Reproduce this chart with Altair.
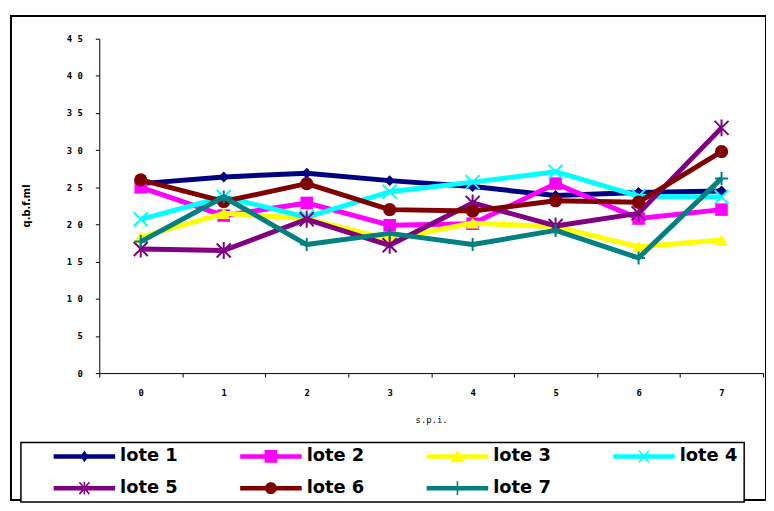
import math
import altair as alt
import pandas as pd

# ---- data ----
spi = ["0", "1", "2", "3", "4", "5", "6", "7"]
series = ["lote 1", "lote 2", "lote 3", "lote 4", "lote 5", "lote 6", "lote 7"]
lote1 = [25.5, 26.4, 26.9, 25.9, 25.1, 23.9, 24.3, 24.5]
lote2 = [25.0, 21.2, 22.9, 19.9, 20.1, 25.5, 20.8, 22.0]
lote3 = [18.3, 21.5, 20.8, 18.0, 20.2, 19.7, 17.0, 17.9]
lote4 = [20.7, 23.7, 21.0, 24.4, 25.7, 27.1, 23.8, 23.7]
lote5 = [16.7, 16.5, 20.7, 17.2, 22.9, 19.8, 21.5, 33.0]
lote6 = [26.0, 23.1, 25.5, 22.0, 21.8, 23.2, 23.0, 29.8]
lote7 = [17.7, 23.7, 17.3, 18.8, 17.3, 19.2, 15.5, 26.2]
y_ticks = [0, 5, 10, 15, 20, 25, 30, 35, 40, 45]
colors = ["#000080", "#FF00FF", "#FFFF00", "#00FFFF", "#800080", "#800000", "#008080"]

all_vals = [lote1, lote2, lote3, lote4, lote5, lote6, lote7]
rows = []
for s, vals in zip(series, all_vals):
    for x, v in zip(spi, vals):
        rows.append({"spi": x, "lote": s, "valor": v})
df = pd.DataFrame(rows)

# ---- geometry ----
W, H = 761, 488
mono = "DejaVu Sans Mono"

x_scale = alt.Scale(domain=spi, range=[89, 758], paddingInner=0, paddingOuter=0)
y_scale = alt.Scale(domain=[0, 45], range=[360, 23], nice=False, zero=True)
color_scale = alt.Scale(domain=series, range=colors)

x_axis = alt.Axis(
    title="s.p.i.", labelAngle=0, tickBand="extent", offset=-(H - 360),
    domainColor="black", tickColor="black", tickSize=4, domainWidth=1,
    labelFont=mono, labelFontSize=9, labelFontWeight="bold", labelColor="black",
    labelPadding=12, titleFont=mono, titleFontSize=9, titleFontWeight="normal",
    titleColor="black", titleY=47, titleBaseline="middle", grid=False,
)
y_axis = alt.Axis(
    title="q.b.f.ml", values=y_ticks, offset=-89,
    domainColor="black", tickColor="black", tickSize=4, domainWidth=1,
    labelFont=mono, labelFontSize=9, labelFontWeight="bold", labelColor="black",
    labelPadding=13, labelExpr="join(split(datum.label, ''), ' ')",
    titleFont="DejaVu Sans", titleFontSize=10, titleFontWeight="bold",
    titleColor="black", titleX=-73, titleY=191, titleBaseline="middle",
    titleAlign="center", titleAngle=270, grid=False,
)

x_enc = alt.X("spi:N", scale=x_scale, axis=x_axis, sort=spi)
y_enc = alt.Y("valor:Q", scale=y_scale, axis=y_axis)

marker_specs = [
    dict(shape="diamond", filled=True, size=121),
    dict(shape="square", filled=True, size=160),
    dict(shape="triangle-up", filled=True, size=170),
    dict(shape="M-1,-1L1,1M-1,1L1,-1", filled=False, size=200, strokeWidth=2),
    dict(shape="M-1,-1L1,1M-1,1L1,-1M0,-1.2L0,1.2", filled=False, size=200, strokeWidth=2),
    dict(shape="circle", filled=True, size=180),
    dict(shape="M-1,0L1,0M0,-1L0,1", filled=False, size=170, strokeWidth=2),
]


# legend symbols: thick line + marker, all filled, same winding (units: 1 = 8 px)
def seg(x1, y1, x2, y2, t=0.1):
    dx, dy = x2 - x1, y2 - y1
    n = math.hypot(dx, dy)
    ox, oy = -dy / n * t, dx / n * t
    pts = [(x1 + ox, y1 + oy), (x2 + ox, y2 + oy), (x2 - ox, y2 - oy), (x1 - ox, y1 - oy)]
    area = sum(pts[i][0] * pts[(i + 1) % 4][1] - pts[(i + 1) % 4][0] * pts[i][1] for i in range(4))
    if area < 0:
        pts = pts[::-1]
    return "M" + "L".join(f"{a:.3f},{b:.3f}" for a, b in pts) + "Z"


bar = "M-3.875,-0.28H3.875V0.28H-3.875Z"
ext = "M12,0"
xmark = seg(-0.625, -0.75, 0.625, 0.75) + seg(-0.625, 0.75, 0.625, -0.75)
leg_paths = [
    bar + "M0,-0.75L0.5,0L0,0.75L-0.5,0Z" + ext,
    bar + "M-0.8,-0.8H0.8V0.8H-0.8Z" + ext,
    bar + "M0,-0.75L0.875,0.75H-0.875Z" + ext,
    bar + xmark + ext,
    bar + xmark + seg(0, -0.8, 0, 0.8) + ext,
    bar + "M-0.75,0A0.75,0.75 0 1,1 0.75,0A0.75,0.75 0 1,1 -0.75,0Z" + ext,
    bar + seg(0, -0.875, 0, 0.875) + ext,
]

legend_obj = alt.Legend(
    title=None, orient="none", legendX=10, legendY=430, columns=4,
    direction="horizontal", columnPadding=33, rowPadding=14, padding=5,
    strokeColor="black", fillColor="white", symbolSize=256, symbolOffset=50,
    labelOffset=27, labelFont="DejaVu Sans", labelFontSize=18,
    labelFontWeight="bold", labelColor="black", symbolStrokeWidth=0,
    labelLimit=300,
)

# legend-only layer (its points sit outside the clipped view)
legend_layer = alt.Chart(df).mark_point(filled=True, opacity=1, clip=True).encode(
    x=alt.value(-60), y=alt.value(-60),
    color=alt.Color("lote:N", scale=color_scale, legend=legend_obj),
    shape=alt.Shape("lote:N", scale=alt.Scale(domain=series, range=leg_paths), legend=legend_obj),
)

layers = [legend_layer]
for s, col, spec in zip(series, colors, marker_specs):
    base = alt.Chart(df).transform_filter(alt.datum.lote == s)
    line = base.mark_line(strokeWidth=5, strokeJoin="round", color=col).encode(x=x_enc, y=y_enc)
    pt = base.mark_point(opacity=1, color=col, **spec).encode(x=x_enc, y=y_enc)
    layers += [line, pt]

chart = (
    alt.layer(*layers)
    .properties(width=W, height=H, background="white",
                padding={"left": 3, "top": 6, "right": 0, "bottom": 0})
    .configure_view(stroke="black", strokeWidth=2)
    .configure_legend(strokeWidth=1.5)
)

chart.save("out.html", embed_options={"renderer": "svg", "actions": False})
